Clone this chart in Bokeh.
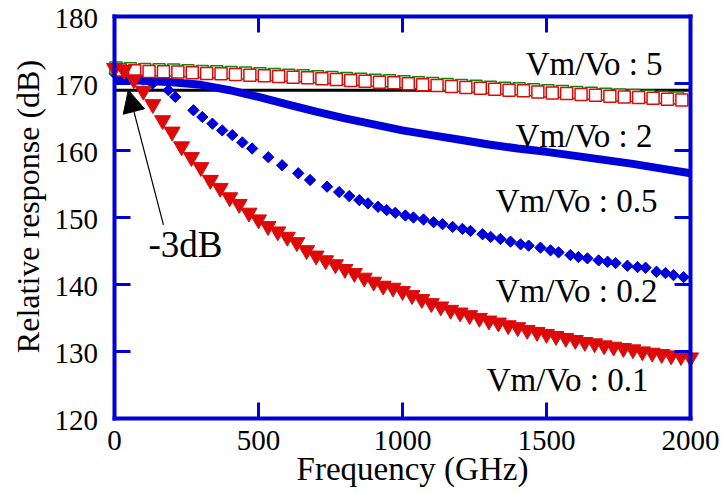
from bokeh.plotting import figure
from bokeh.models import (Range1d, LinearAxis, FixedTicker, Label, Arrow,
                          NormalHead)
from bokeh.embed import file_html
from bokeh.resources import INLINE
import math

# ---- data -------------------------------------------------------------
# Vm/Vo = 5 (green open squares)
f_green = [5, 55, 105, 155, 205, 255, 305, 355, 405, 455, 505, 555, 605, 655,
           705, 755, 805, 855, 905, 955, 1005, 1055, 1105, 1155, 1205, 1255,
           1305, 1355, 1405, 1455, 1505, 1555, 1605, 1655, 1705, 1755, 1805,
           1855, 1905, 1955]
r_green = [172.3, 172.2, 172.1, 172.05, 172.0, 171.9, 171.8, 171.75, 171.65,
           171.55, 171.45, 171.35, 171.25, 171.15, 171.0, 170.9, 170.75, 170.65,
           170.5, 170.4, 170.25, 170.1, 170.0, 169.85, 169.7, 169.6, 169.45,
           169.3, 169.2, 169.05, 168.9, 168.8, 168.65, 168.55, 168.4, 168.3,
           168.2, 168.1, 167.95, 167.85]

# Vm/Vo = 2 (red open squares)
f_red_sq = [20, 70, 120, 170, 220, 270, 320, 370, 420, 470, 520, 570, 620, 670,
            720, 770, 820, 870, 920, 970, 1020, 1070, 1120, 1170, 1220, 1270,
            1320, 1370, 1420, 1470, 1520, 1570, 1620, 1670, 1720, 1770, 1820,
            1870, 1920, 1970]
r_red_sq = [172.0, 171.9, 171.8, 171.75, 171.7, 171.6, 171.5, 171.45, 171.35,
            171.25, 171.15, 171.05, 170.95, 170.85, 170.7, 170.6, 170.45,
            170.35, 170.2, 170.1, 169.95, 169.8, 169.7, 169.55, 169.4, 169.3,
            169.15, 169.0, 168.9, 168.75, 168.6, 168.5, 168.35, 168.25, 168.1,
            168.0, 167.9, 167.8, 167.65, 167.55]

# Vm/Vo = 0.5 (heavy blue trace)
f_blue = [0, 100, 200, 300, 400, 500, 600, 700, 800, 900, 1000, 1100, 1200,
          1300, 1400, 1500, 1600, 1700, 1800, 1900, 2000]
r_blue = [170.6, 170.4, 170.2, 169.8, 169.0, 168.0, 166.9, 165.8, 164.8, 163.9,
          163.0, 162.3, 161.6, 160.9, 160.3, 159.8, 159.2, 158.6, 158.0, 157.3,
          156.6]

# Vm/Vo = 0.2 (blue diamonds)
f_diam = [0, 50, 100, 132, 187, 211, 274, 305, 340, 374, 409, 444, 478, 534,
          582, 638, 679, 738, 780, 815, 850, 880, 915, 945, 975, 1010, 1038,
          1073, 1108, 1139, 1174, 1208, 1236, 1278, 1306, 1340, 1375, 1410,
          1438, 1479, 1514, 1542, 1583, 1611, 1642, 1681, 1712, 1740, 1781,
          1816, 1844, 1882, 1913, 1941, 1976]
r_diam = [171.5, 171.1, 170.6, 170.0, 169.0, 168.0, 166.0, 165.0, 164.0, 163.0,
          162.3, 161.2, 160.3, 159.0, 157.8, 156.6, 155.6, 154.6, 153.8, 153.2,
          152.6, 152.1, 151.6, 151.1, 150.7, 150.3, 150.0, 149.7, 149.3, 149.0,
          148.6, 148.3, 148.0, 147.5, 147.1, 146.8, 146.4, 146.0, 145.8, 145.5,
          145.1, 144.8, 144.4, 144.1, 143.9, 143.6, 143.4, 143.2, 142.8, 142.6,
          142.5, 141.9, 141.7, 141.4, 141.1]

# Vm/Vo = 0.1 (red triangles)
f_tri = [0, 33, 67, 100, 133, 167, 200, 233, 267, 300, 333, 367, 400, 433, 467,
         500, 533, 567, 600, 633, 667, 700, 733, 767, 800, 833, 867, 900, 933,
         967, 1000, 1033, 1067, 1100, 1133, 1167, 1200, 1233, 1267, 1300, 1333,
         1367, 1400, 1433, 1467, 1500, 1533, 1567, 1600, 1633, 1667, 1700,
         1733, 1767, 1800, 1833, 1867, 1900, 1933, 1967, 2000]
r_tri = [172.3, 172.0, 170.6, 168.9, 166.9, 164.5, 162.8, 160.6, 159.0, 157.5,
         155.6, 154.4, 153.0, 152.0, 150.7, 149.7, 148.7, 147.9, 147.1, 146.3,
         145.1, 144.3, 143.6, 143.0, 142.3, 141.7, 141.0, 140.4, 139.8, 139.5,
         139.0, 138.4, 137.8, 137.2, 136.7, 136.2, 135.8, 135.4, 135.0, 134.6,
         134.3, 133.9, 133.6, 133.2, 132.9, 132.6, 132.3, 132.0, 131.7, 131.4,
         131.2, 130.9, 130.7, 130.5, 130.3, 130.0, 129.8, 129.6, 129.4, 129.3,
         129.1]

ref_level = 169.0          # -3 dB reference level
x_ticks = [0, 500, 1000, 1500, 2000]
y_ticks = [120, 130, 140, 150, 160, 170, 180]
x_title = "Frequency (GHz)"
y_title = "Relative response (dB)"

labels = ["Vm/Vo : 5", "Vm/Vo : 2", "Vm/Vo : 0.5", "Vm/Vo : 0.2", "Vm/Vo : 0.1"]
label_x = [1903, 1868, 1885, 1885, 1854]
label_y = [172.9, 162.2, 152.5, 139.1, 125.8]

# ---- layout -----------------------------------------------------------
FONT = "'Liberation Serif', 'Times New Roman', serif"
BLUE = "#0000d8"
RED = "#dd0a0a"
GREEN = "#0a8a0a"

W, H = 727, 493
X0, X1, Y0, Y1 = 0, 2000, 120, 180          # boxed data area
BOX_L, BOX_R, BOX_T, BOX_B = 114, 37, 16, 75  # margins around the box (px)
ux = (X1 - X0) / (W - BOX_L - BOX_R)          # data units per pixel
uy = (Y1 - Y0) / (H - BOX_T - BOX_B)

p = figure(width=W, height=H, output_backend="svg", toolbar_location=None,
           x_range=Range1d(X0 - BOX_L * ux, X1 + BOX_R * ux),
           y_range=Range1d(Y0 - BOX_B * uy, Y1 + BOX_T * uy),
           x_axis_location=None, y_axis_location=None,
           min_border=0, background_fill_color="white",
           border_fill_color="white")
p.grid.visible = False
p.outline_line_color = None


def box_axis(loc, ticks, at, bounds):
    # blue box edge with inward ticks; numbers are drawn as labels
    ax = LinearAxis(fixed_location=at, bounds=bounds,
                    ticker=FixedTicker(ticks=ticks))
    ax.axis_line_color = BLUE
    ax.axis_line_width = 4
    ax.axis_line_cap = "square"
    ax.major_tick_line_color = BLUE
    ax.major_tick_line_width = 3
    ax.major_tick_in = 16
    ax.major_tick_out = 0
    ax.minor_tick_line_color = None
    ax.major_label_text_font_size = "0px"
    ax.major_label_text_color = None
    ax.major_label_standoff = 0
    p.add_layout(ax, loc)


box_axis("below", x_ticks, Y0, (X0, X1))
box_axis("above", x_ticks, Y1, (X0, X1))
box_axis("left", y_ticks, X0, (Y0, Y1))
box_axis("right", y_ticks, X1, (Y0, Y1))


def text(x, y, s, size, align="right", angle=0.0):
    p.add_layout(Label(x=x, y=y, text=s, text_align=align,
                       text_baseline="alphabetic", angle=angle,
                       text_font=FONT, text_font_size=size,
                       text_color="black"))


# tick numbers
for t in x_ticks:
    text(t, Y0 - 22 * uy, str(t), "29px", align="center")
for t in y_ticks:
    text(X0 - 16.5 * ux, t - 1.5 * uy, str(t), "29px")

# axis titles
text((X0 + X1) / 2 + 10 * ux, Y0 - 50 * uy, x_title, "33px", align="center")
text(X0 - 87 * ux, Y1 - 190 * uy, y_title, "32px", align="center",
     angle=math.pi / 2)

# -3 dB reference line
p.line(x=[X0, X1], y=[ref_level, ref_level], line_color="black", line_width=3)

# Vm/Vo = 0.5
p.line(x=f_blue, y=r_blue, line_color=BLUE, line_width=8)

# Vm/Vo = 0.2
p.scatter(x=f_diam, y=r_diam, marker="square", angle=math.pi / 4, size=8,
          fill_color=BLUE, line_color=BLUE)

# Vm/Vo = 5 and 2
p.scatter(x=f_green, y=r_green, marker="square", size=12, fill_color="white",
          line_color=GREEN, line_width=1.5)
p.scatter(x=f_red_sq, y=r_red_sq, marker="square", size=12, fill_color="white",
          line_color=RED, line_width=1.5)

# Vm/Vo = 0.1
p.scatter(x=f_tri, y=r_tri, marker="inverted_triangle", size=16,
          fill_color=RED, line_color=RED)

# curve labels
for t, lx, ly in zip(labels, label_x, label_y):
    text(lx, ly, t, "33px")

# -3 dB annotation
p.add_layout(Arrow(end=NormalHead(size=22, fill_color="black",
                                  line_color="black", line_width=1),
                   x_start=170, y_start=148.9, x_end=48, y_end=169.0,
                   line_color="black", line_width=1.2))
text(118, 146.0, "-3dB", "37px", align="left")

open("out.html", "w").write(file_html(p, INLINE))
